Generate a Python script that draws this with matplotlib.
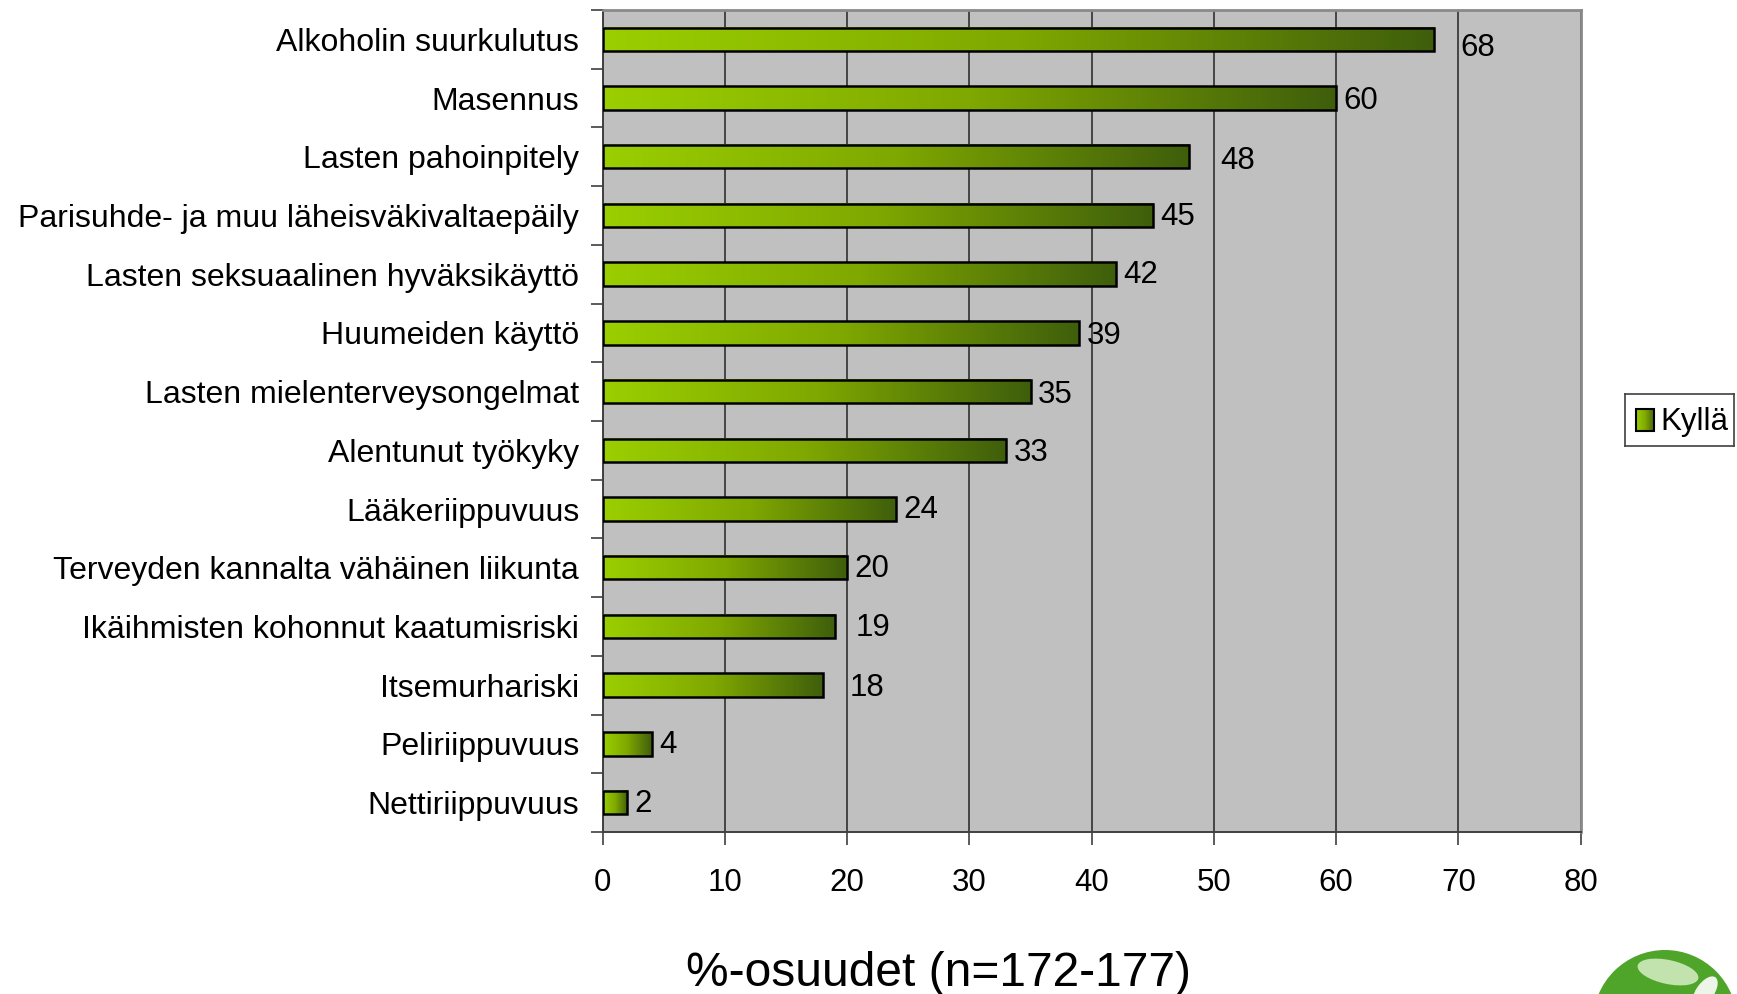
import matplotlib
matplotlib.use("Agg")
import matplotlib.pyplot as plt
import numpy as np
from matplotlib.colors import LinearSegmentedColormap
from matplotlib.patches import Circle, Ellipse

plt.rcParams["font.family"] = ["Liberation Sans", "DejaVu Sans"]

categories = [
    "Alkoholin suurkulutus",
    "Masennus",
    "Lasten pahoinpitely",
    "Parisuhde- ja muu läheisväkivaltaepäily",
    "Lasten seksuaalinen hyväksikäyttö",
    "Huumeiden käyttö",
    "Lasten mielenterveysongelmat",
    "Alentunut työkyky",
    "Lääkeriippuvuus",
    "Terveyden kannalta vähäinen liikunta",
    "Ikäihmisten kohonnut kaatumisriski",
    "Itsemurhariski",
    "Peliriippuvuus",
    "Nettiriippuvuus",
]
values = [68, 60, 48, 45, 42, 39, 35, 33, 24, 20, 19, 18, 4, 2]
x_ticks = [0, 10, 20, 30, 40, 50, 60, 70, 80]
series_name = "Kyllä"
x_title = "%-osuudet (n=172-177)"

# label placement quirks of the original (gap after bar, vertical nudge)
label_dx = [2.2, 0.6, 2.5, 0.6, 0.6, 0.6, 0.6, 0.6, 0.6, 0.6, 1.7, 2.2, 0.6, 0.6]
label_dy = [0.14, 0.05, 0.08, 0.02, 0.02, 0.05, 0.05, 0.05, 0.02, 0.02, 0.02, 0.05, 0.02, 0.02]

green = LinearSegmentedColormap.from_list("grn", ["#9bcf00", "#7fa800", "#3f5e0c"])
gradient = np.linspace(0, 1, 256).reshape(1, -1)

fig = plt.figure(figsize=(17.37, 9.94), dpi=100)
ax = fig.add_axes([0.347, 0.163, 0.563, 0.827])
ax.set_facecolor("#c0c0c0")

y = np.arange(len(categories))
bars = ax.barh(y, values, height=0.4, facecolor="none", edgecolor="black",
               linewidth=1.8, zorder=4)
for b in bars:
    x0, y0 = b.get_x(), b.get_y()
    ax.imshow(gradient, cmap=green, aspect="auto", zorder=3,
              extent=(x0, x0 + b.get_width(), y0 + b.get_height(), y0))

for i, v in enumerate(values):
    ax.text(v + label_dx[i], i + label_dy[i], str(v), va="center", ha="left",
            fontsize=22.5, zorder=5)

ax.set_xlim(0, 80)
ax.set_ylim(len(categories) - 0.5, -0.5)
ax.set_xticks(x_ticks)
ax.set_xticklabels([str(t) for t in x_ticks], fontsize=22.5)
ax.set_yticks(y)
ax.set_yticklabels(categories, fontsize=23)
ax.set_yticks(np.arange(len(categories) + 1) - 0.5, minor=True)
ax.tick_params(axis="y", which="major", length=0, pad=17)
ax.tick_params(axis="y", which="minor", length=9, width=1.2, color="#404040")
ax.tick_params(axis="x", length=9, width=1.2, color="#404040", pad=17)

ax.xaxis.grid(True, color="#303030", linewidth=1.2, zorder=1)
ax.set_axisbelow(True)
for side in ["top", "right"]:
    ax.spines[side].set_color("#8a8a8a")
    ax.spines[side].set_linewidth(2)
for side in ["left", "bottom"]:
    ax.spines[side].set_color("#404040")
    ax.spines[side].set_linewidth(1.4)

ax.set_xlabel(x_title, fontsize=34.5)
ax.xaxis.set_label_coords(0.343, -0.145)

# legend
lax = fig.add_axes([0.9355, 0.551, 0.063, 0.053])
lax.set_xticks([])
lax.set_yticks([])
for s in lax.spines.values():
    s.set_color("#404040")
    s.set_linewidth(1.2)
lax.set_xlim(0, 1)
lax.set_ylim(0, 1)
lax.imshow(gradient, cmap=green, aspect="auto", extent=(0.1, 0.265, 0.3, 0.7))
lax.add_patch(plt.Rectangle((0.1, 0.3), 0.165, 0.4, fill=False, lw=1.5,
                            edgecolor="black"))
lax.text(0.32, 0.47, series_name, fontsize=22.5, va="center", ha="left")

# logo in the corner (pixel coords, origin bottom-left)
fig.patches.append(Circle((1665, -28), 72, transform=None, facecolor="#4fa52a",
                          edgecolor="none"))
fig.patches.append(Ellipse((1668, 22), 62, 24, angle=-12, transform=None,
                           facecolor="#cfeabd", edgecolor="none", alpha=0.9))
fig.patches.append(Ellipse((1705, 2), 36, 18, angle=55, transform=None,
                           facecolor="white", edgecolor="none", alpha=0.9))

fig.savefig("out.png", dpi=100)
